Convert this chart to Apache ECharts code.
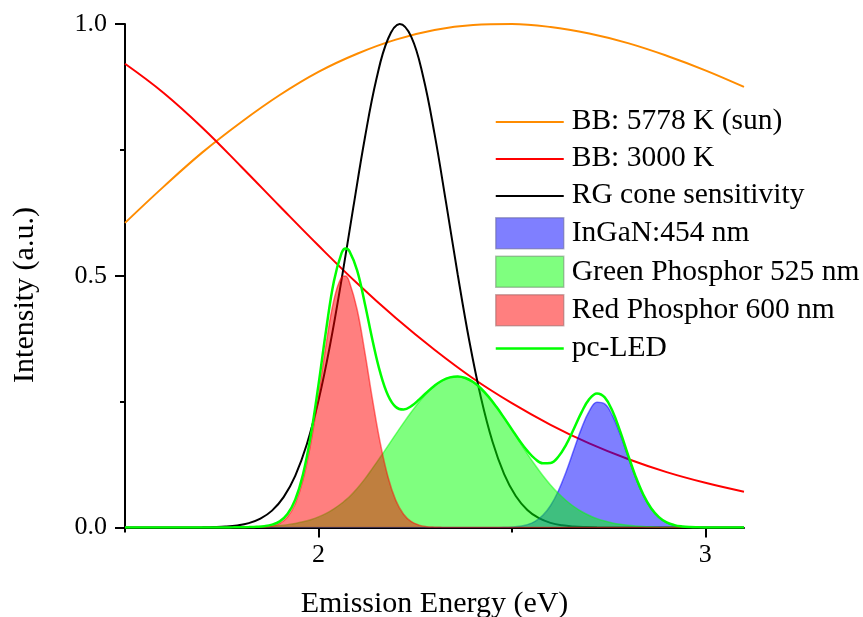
<!DOCTYPE html>
<html>
<head>
<meta charset="utf-8">
<title>pc-LED emission spectra</title>
<script src="https://cdn.jsdelivr.net/npm/echarts@6/dist/echarts.min.js"></script>
<style>
  html, body { margin: 0; padding: 0; background: #fff; }
  #chart { width: 863px; height: 617px; }
</style>
</head>
<body>
<div id="chart"></div>
<script>
// Blackbody curves (normalised), sampled every 0.1 eV
const bbEnergy = [1.5, 1.6, 1.7, 1.8, 1.9, 2.0, 2.1, 2.2, 2.3, 2.4, 2.5, 2.6, 2.7, 2.8, 2.9, 3.0, 3.1];
const bbSun    = [0.605, 0.677, 0.745, 0.805, 0.859, 0.905, 0.941, 0.969, 0.988, 0.998, 1.000, 0.994, 0.981, 0.962, 0.937, 0.908, 0.875];
const bb3000   = [0.921, 0.863, 0.794, 0.717, 0.638, 0.560, 0.485, 0.416, 0.353, 0.296, 0.247, 0.204, 0.167, 0.136, 0.110, 0.0888, 0.0711];

// Red/green cone sensitivity
const coneEnergy = [1.5, 1.61, 1.64, 1.67, 1.70, 1.73, 1.76, 1.79, 1.82, 1.85, 1.88, 1.91, 1.94, 1.97, 2.00,
  2.03, 2.06, 2.09, 2.12, 2.15, 2.18, 2.21, 2.24, 2.27, 2.30, 2.33, 2.36, 2.39, 2.42, 2.45, 2.48,
  2.51, 2.54, 2.57, 2.60, 2.63, 2.66, 2.69, 2.72, 2.75, 2.78, 3.1];
const cone = [0, 0, 0, 0.0001, 0.0003, 0.0008, 0.0018, 0.0041, 0.0087, 0.0176, 0.0335, 0.0603, 0.1026, 0.1652, 0.2516,
  0.3622, 0.4932, 0.6352, 0.7736, 0.8911, 0.9707, 1.0000, 0.9743, 0.8977, 0.7822, 0.6447, 0.5025, 0.3704, 0.2582, 0.1702, 0.1061,
  0.0626, 0.0349, 0.0184, 0.0092, 0.0043, 0.0019, 0.0008, 0.0003, 0.0001, 0, 0];

// LED emission components, sampled every 0.02 eV (plus 2.07 at the red peak)
const ledEnergy = [1.5,
  1.70, 1.72, 1.74, 1.76, 1.78, 1.80, 1.82, 1.84, 1.86, 1.88,
  1.90, 1.92, 1.94, 1.96, 1.98, 2.00, 2.02, 2.04, 2.06, 2.07, 2.08,
  2.10, 2.12, 2.14, 2.16, 2.18, 2.20, 2.22, 2.24, 2.26, 2.28,
  2.30, 2.32, 2.34, 2.36, 2.38, 2.40, 2.42, 2.44, 2.46, 2.48,
  2.50, 2.52, 2.54, 2.56, 2.58, 2.60, 2.62, 2.64, 2.66, 2.68,
  2.70, 2.72, 2.74, 2.76, 2.78, 2.80, 2.82, 2.84, 2.86, 2.88,
  2.90, 2.92, 2.94, 2.96, 2.98, 3.00, 3.02, 3.04,
  3.1];
const redPhosphor = [0,
  0, 0, 0, 0, 0, 0, 0.0001, 0.0003, 0.0009, 0.0029,
  0.0083, 0.0210, 0.0472, 0.0941, 0.1665, 0.2617, 0.3651, 0.4522, 0.4973, 0.4995, 0.4878,
  0.4330, 0.3480, 0.2530, 0.1670, 0.0998, 0.0538, 0.0264, 0.0117, 0.0047, 0.0017,
  0.0006, 0.0002, 0, 0, 0, 0, 0, 0, 0, 0,
  0, 0, 0, 0, 0, 0, 0, 0, 0, 0,
  0, 0, 0, 0, 0, 0, 0, 0, 0, 0,
  0, 0, 0, 0, 0, 0, 0, 0,
  0];
const greenPhosphor = [0,
  0, 0.0001, 0.0001, 0.0002, 0.0003, 0.0005, 0.0008, 0.0012, 0.0018, 0.0027,
  0.0039, 0.0057, 0.0081, 0.0113, 0.0155, 0.0210, 0.0280, 0.0370, 0.0480, 0.0545, 0.0610,
  0.0775, 0.0965, 0.1180, 0.1400, 0.1625, 0.1855, 0.2078, 0.2293, 0.2492, 0.2668,
  0.2811, 0.2918, 0.2982, 0.3000, 0.2969, 0.2888, 0.2761, 0.2594, 0.2395, 0.2174,
  0.1939, 0.1700, 0.1465, 0.1241, 0.1033, 0.0845, 0.0679, 0.0537, 0.0417, 0.0318,
  0.0239, 0.0176, 0.0128, 0.0091, 0.0064, 0.0044, 0.0030, 0.0020, 0.0013, 0.0008,
  0.0005, 0.0003, 0.0002, 0.0001, 0.0001, 0, 0, 0,
  0];
const ingan = [0,
  0, 0, 0, 0, 0, 0, 0, 0, 0, 0,
  0, 0, 0, 0, 0, 0, 0, 0, 0, 0, 0,
  0, 0, 0, 0, 0, 0, 0, 0, 0, 0,
  0, 0, 0, 0, 0, 0, 0, 0, 0.0001, 0.0003,
  0.0010, 0.0024, 0.0057, 0.0122, 0.0242, 0.0437, 0.0725, 0.1103, 0.1538, 0.1969,
  0.2311, 0.2487, 0.2455, 0.2222, 0.1845, 0.1405, 0.0981, 0.0629, 0.0369, 0.0199,
  0.0098, 0.0045, 0.0019, 0.0007, 0.0002, 0.0001, 0, 0,
  0];
const pcLed = [0,
  0, 0.0001, 0.0001, 0.0002, 0.0003, 0.0005, 0.0009, 0.0015, 0.0027, 0.0056,
  0.0122, 0.0267, 0.0553, 0.1054, 0.1820, 0.2827, 0.3931, 0.4892, 0.5453, 0.5540, 0.5488,
  0.5105, 0.4445, 0.3710, 0.3070, 0.2623, 0.2393, 0.2342, 0.2410, 0.2539, 0.2685,
  0.2817, 0.2920, 0.2982, 0.3000, 0.2969, 0.2888, 0.2761, 0.2594, 0.2396, 0.2177,
  0.1949, 0.1724, 0.1522, 0.1363, 0.1275, 0.1282, 0.1404, 0.1640, 0.1955, 0.2287,
  0.2550, 0.2663, 0.2583, 0.2313, 0.1909, 0.1449, 0.1011, 0.0649, 0.0382, 0.0207,
  0.0103, 0.0048, 0.0021, 0.0008, 0.0003, 0.0001, 0, 0,
  0];

// Axis ticks
const xMajorTicks = [2, 3];
const xMinorTicks = [1.5, 2.5];
const yTickLabels = ['0.0', '0.5', '1.0'];

const pairs = (xs, ys) => xs.map((x, i) => [x, ys[i]]);
const serif = "'Liberation Serif', 'Times New Roman', serif";

// Legend key for line series: a 68x31 box holding a centred stroke
const lineKey = w => 'path://M0,0h0.01v0.01h-0.01z M0,' + (16 - w / 2) + 'h68v' + w + 'h-68z M67.99,30.99h0.01v0.01h-0.01z';

const chart = echarts.init(document.getElementById('chart'), null, { renderer: 'canvas' });

const lineSeries = (name, xs, ys, color, width, z) => ({
  name, type: 'line', data: pairs(xs, ys), symbol: 'none', smooth: 0.4, z,
  lineStyle: { color, width }, itemStyle: { color }, emphasis: { disabled: true }
});
const areaSeries = (name, xs, ys, rgba, z) => ({
  name, type: 'line', data: pairs(xs, ys), symbol: 'none', smooth: 0.4, z,
  lineStyle: { color: rgba, width: 1.5 }, itemStyle: { color: rgba },
  areaStyle: { color: rgba, opacity: 1 }, emphasis: { disabled: true }
});

const tickLine = { color: '#000', width: 2 };

chart.setOption({
  animation: false,
  backgroundColor: '#ffffff',
  grid: { left: 125, right: 119, top: 24, bottom: 89.5, containLabel: false },
  xAxis: [{
    type: 'value', min: 1.5, max: 3.1,
    axisLine: { show: true, onZero: false, lineStyle: tickLine },
    axisTick: { show: true, customValues: xMajorTicks, length: 10, lineStyle: tickLine },
    axisLabel: { show: true, customValues: xMajorTicks, margin: 15, fontFamily: serif, fontSize: 26, color: '#000',
      formatter: v => String(v) },
    splitLine: { show: false }
  }, {
    type: 'value', min: 1.5, max: 3.1, position: 'bottom',
    axisLine: { show: false, onZero: false },
    axisTick: { show: true, customValues: xMinorTicks, length: 5, lineStyle: tickLine },
    axisLabel: { show: false },
    splitLine: { show: false }
  }],
  yAxis: {
    type: 'value', min: 0, max: 1, interval: 0.5,
    axisLine: { show: true, onZero: false, lineStyle: tickLine },
    axisTick: { show: true, length: 10, lineStyle: tickLine },
    minorTick: { show: true, splitNumber: 2, length: 5, lineStyle: tickLine },
    axisLabel: { margin: 18, fontFamily: serif, fontSize: 26, color: '#000',
      formatter: v => yTickLabels[Math.round(v * 2)] },
    splitLine: { show: false }
  },
  legend: {
    orient: 'vertical', left: 495, top: 106, padding: 0,
    itemWidth: 68, itemHeight: 31, itemGap: 6, selectedMode: false,
    textStyle: { fontFamily: serif, fontSize: 29.5, color: '#000', padding: [0, 0, 0, 3] },
    data: [
      { name: 'BB: 5778 K (sun)', icon: lineKey(2), itemStyle: { color: '#ff8c00', borderWidth: 0 } },
      { name: 'BB: 3000 K', icon: lineKey(2), itemStyle: { color: '#ff0000', borderWidth: 0 } },
      { name: 'RG cone sensitivity', icon: lineKey(2), itemStyle: { color: '#000000', borderWidth: 0 } },
      { name: 'InGaN:454 nm', icon: 'rect', itemStyle: { color: 'rgba(0,0,255,0.5)', borderColor: 'rgba(90,90,140,0.45)', borderWidth: 1.5 } },
      { name: 'Green Phosphor 525 nm', icon: 'rect', itemStyle: { color: 'rgba(0,255,0,0.5)', borderColor: 'rgba(100,120,100,0.45)', borderWidth: 1.5 } },
      { name: 'Red Phosphor 600 nm', icon: 'rect', itemStyle: { color: 'rgba(255,0,0,0.5)', borderColor: 'rgba(140,90,90,0.45)', borderWidth: 1.5 } },
      { name: 'pc-LED', icon: lineKey(2.5), itemStyle: { color: '#00ff00', borderWidth: 0 } }
    ]
  },
  graphic: [
    { type: 'text', x: 25, y: 295, rotation: Math.PI / 2,
      style: { text: 'Intensity (a.u.)', font: '30px ' + serif, fill: '#000', align: 'center', verticalAlign: 'middle' } },
    { type: 'text', x: 434.5, y: 604,
      style: { text: 'Emission Energy (eV)', font: '30px ' + serif, fill: '#000', align: 'center', verticalAlign: 'middle' } }
  ],
  series: [
    lineSeries('BB: 5778 K (sun)', bbEnergy, bbSun, '#ff8c00', 2, 2),
    lineSeries('BB: 3000 K', bbEnergy, bb3000, '#ff0000', 2, 2),
    lineSeries('RG cone sensitivity', coneEnergy, cone, '#000000', 2, 2),
    areaSeries('InGaN:454 nm', ledEnergy, ingan, 'rgba(0,0,255,0.5)', 3),
    areaSeries('Green Phosphor 525 nm', ledEnergy, greenPhosphor, 'rgba(0,255,0,0.5)', 4),
    areaSeries('Red Phosphor 600 nm', ledEnergy, redPhosphor, 'rgba(255,0,0,0.5)', 5),
    lineSeries('pc-LED', ledEnergy, pcLed, '#00ff00', 2.5, 6)
  ]
});
</script>
</body>
</html>
